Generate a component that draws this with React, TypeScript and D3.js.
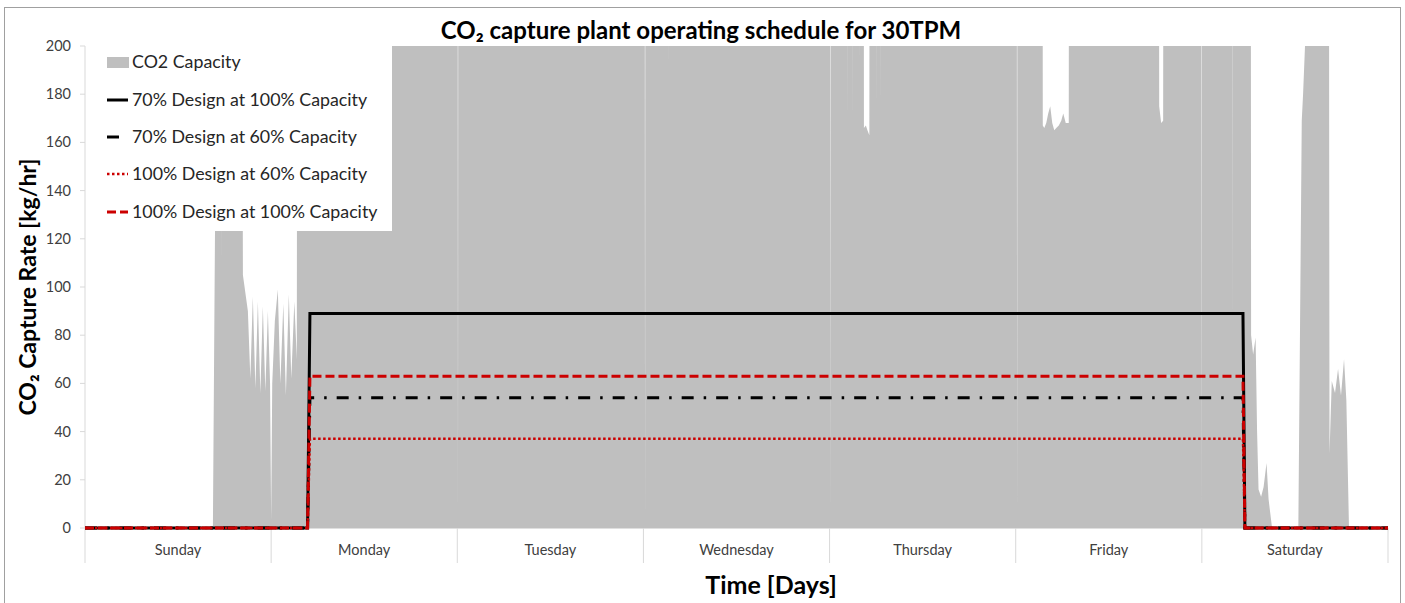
import React from 'react';
import * as d3 from 'd3';

const DAYS = ['Sunday', 'Monday', 'Tuesday', 'Wednesday', 'Thursday', 'Friday', 'Saturday'];
const Y_TICKS = [0, 20, 40, 60, 80, 100, 120, 140, 160, 180, 200];

// CO2 capacity (kg/hr) vs time (hours from Sunday 00:00); values above 200 are off-scale
const CAPACITY_HOURS = [
  0, 16.49, 16.94, 17.02, 17.5, 17.61, 17.73, 19.71, 20.36, 21.0, 21.32, 21.64, 21.97, 22.29, 22.61,
  22.93, 23.25, 23.58, 23.86, 24.0, 24.14, 24.48, 24.86, 25.19, 25.57, 25.9, 26.28, 26.6, 26.99,
  27.31, 27.57, 27.87, 27.98, 28.1,
  47.94, 48.09, 48.24,
  72.06, 72.21, 72.36,
  75.16, 75.24, 75.32,
  95.96, 96.11, 96.26,
  98.17, 98.3, 98.43, 98.81, 98.94, 99.07, 99.73, 99.85, 99.97,
  100.23, 100.43, 100.68, 100.88, 101.13, 101.33,
  101.98, 102.1, 102.22, 102.5, 102.62, 102.74,
  120.03, 120.18, 120.33,
  123.3, 123.49, 123.68, 123.94, 124.19, 124.45, 124.71, 124.97, 125.23, 125.55, 125.87, 126.13,
  126.45, 126.84, 127.04,
  138.2, 138.5, 138.75, 139.01, 139.25,
  143.84, 143.99, 144.14,
  147.78, 147.9, 148.02,
  150.15, 150.35, 150.61, 150.93, 151.12, 151.31, 151.64, 151.96, 152.34, 152.6, 153.05,
  156.44, 156.88, 157.05, 157.3, 157.4,
  160.14, 160.46, 160.75, 161.17, 161.56, 161.94, 162.33, 162.63, 162.97, 168,
];
const CAPACITY_VALUES = [
  0, 0, 205, 1000, 1000, 105, 1000, 1000, 105, 90, 62, 96, 58, 94, 56,
  92, 57, 90, 60, 3, 60, 86, 99, 60, 93, 55, 97, 62, 94,
  70, 1000, 1000, 107, 1000,
  1000, 2, 1000,
  1000, 2, 1000,
  1000, 178, 1000,
  1000, 2, 1000,
  1000, 166, 1000, 1000, 166, 1000, 1000, 185, 1000,
  1000, 166, 167, 165, 163, 1000,
  1000, 168, 1000, 1000, 168, 1000,
  1000, 2, 1000,
  1000, 167, 166, 168, 172, 175, 168, 165, 166, 167, 169, 172,
  168, 168, 1000,
  1000, 175, 168, 169, 1000,
  1000, 2, 1000,
  1000, 85, 1000,
  1000, 80, 72, 79, 40, 16, 13, 17, 27, 12, 0,
  0, 169, 180, 200, 1000,
  1000, 31, 61, 56, 66, 55, 70, 53, 0, 0,
];

// Operating schedules (kg/hr)
const SCHEDULE_HOURS = [0, 28.7, 29.0, 149.3, 149.55, 168];
const DESIGN70_CAP100 = [0, 0, 89, 89, 0, 0];
const DESIGN70_CAP60 = [0, 0, 54, 54, 0, 0];
const DESIGN100_CAP60 = [0, 0, 37, 37, 0, 0];
const DESIGN100_CAP100 = [0, 0, 63, 63, 0, 0];

const LEGEND_LABELS = [
  'CO2 Capacity',
  '70% Design at 100% Capacity',
  '70% Design at 60% Capacity',
  '100% Design at 60% Capacity',
  '100% Design at 100% Capacity',
];

const FONT = "Lato, 'Open Sans', sans-serif";
const RED = '#cc0000';

export default function App() {
  const W = 1405;
  const H = 603;
  const left = 85, right = 1388, top = 46, bottom = 528;
  const x = d3.scaleLinear().domain([0, 168]).range([left, right]);
  const y = d3.scaleLinear().domain([0, 200]).range([bottom, top]);
  const dayX = d3.scaleBand<string>().domain(DAYS).range([left, right]);

  const capData: [number, number][] = CAPACITY_HOURS.map((t, i) => [t, CAPACITY_VALUES[i]]);
  const area = d3
    .area<[number, number]>()
    .x((d) => x(d[0]))
    .y0(y(0))
    .y1((d) => y(d[1]));
  const line = d3
    .line<[number, number]>()
    .x((d) => x(d[0]))
    .y((d) => y(d[1]));
  const series = (vals: number[]) => line(SCHEDULE_HOURS.map((t, i) => [t, vals[i]] as [number, number])) || '';

  const lineStyles = [
    { vals: DESIGN70_CAP100, stroke: '#000', width: 3, dash: undefined as string | undefined },
    { vals: DESIGN70_CAP60, stroke: '#000', width: 3, dash: '12,10,2.5,10' },
    { vals: DESIGN100_CAP60, stroke: RED, width: 2.5, dash: '2.5,2.5' },
    { vals: DESIGN100_CAP100, stroke: RED, width: 3, dash: '9,4' },
  ];

  const legendY = [62, 100, 137, 174, 212];

  return (
    <svg
      width={W}
      height={H}
      style={{ position: 'absolute', left: 0, top: 0, background: '#fff' }}
      fontFamily={FONT}
    >
      <defs>
        <clipPath id="plotClip">
          <rect x={left} y={top} width={right - left} height={bottom - top} />
        </clipPath>
      </defs>
      <rect x={4.5} y={7.5} width={1396} height={620} fill="#fff" stroke="#a0a0a0" strokeWidth={1} />

      {/* capacity area */}
      <path d={area(capData) || ''} fill="#bfbfbf" clipPath="url(#plotClip)" />

      {/* y axis */}
      <line x1={left} x2={left} y1={top} y2={bottom} stroke="#d9d9d9" strokeWidth={1} />
      {y.ticks(10).filter((t) => Y_TICKS.includes(t)).map((t) => (
        <g key={t}>
          <line x1={left - 5} x2={left} y1={y(t)} y2={y(t)} stroke="#d9d9d9" />
          <text x={71} y={y(t) + 5} textAnchor="end" fontSize={14.5} fill="#404040">
            {t}
          </text>
        </g>
      ))}

      {/* x axis */}
      <line x1={left} x2={right} y1={bottom} y2={bottom} stroke="#bfbfbf" strokeWidth={1} />
      {d3.range(0, 169, 24).map((h) => (
        <line key={h} x1={x(h)} x2={x(h)} y1={bottom} y2={563} stroke="#d9d9d9" strokeWidth={1} />
      ))}
      {DAYS.map((d) => (
        <text
          key={d}
          x={(dayX(d) || 0) + dayX.bandwidth() / 2}
          y={555}
          textAnchor="middle"
          fontSize={14.5}
          fill="#404040"
        >
          {d}
        </text>
      ))}

      {/* schedule lines */}
      {lineStyles.map((s, i) => (
        <path
          key={i}
          d={series(s.vals)}
          fill="none"
          stroke={s.stroke}
          strokeWidth={s.width}
          strokeDasharray={s.dash}
        />
      ))}

      {/* legend */}
      <rect x={88} y={top} width={304} height={185} fill="#fff" />
      <rect x={107} y={57} width={22} height={11} fill="#bfbfbf" />
      {lineStyles.map((s, i) => (
        <line
          key={i}
          x1={107}
          x2={128}
          y1={legendY[i + 1]}
          y2={legendY[i + 1]}
          stroke={s.stroke}
          strokeWidth={s.width}
          strokeDasharray={s.dash}
        />
      ))}
      {LEGEND_LABELS.map((l, i) => (
        <text key={l} x={132} y={legendY[i] + 6} fontSize={17.8} fill="#262626">
          {l}
        </text>
      ))}

      {/* titles */}
      <text x={701} y={39} textAnchor="middle" fontSize={24} fontWeight="bold" fill="#000">
        CO₂ capture plant operating schedule for 30TPM
      </text>
      <text
        transform="translate(36,287) rotate(-90)"
        textAnchor="middle"
        fontSize={23}
        fontWeight="bold"
        fill="#000"
      >
        CO₂ Capture Rate [kg/hr]
      </text>
      <text x={771} y={594} textAnchor="middle" fontSize={25} fontWeight="bold" fill="#000">
        Time [Days]
      </text>
    </svg>
  );
}
